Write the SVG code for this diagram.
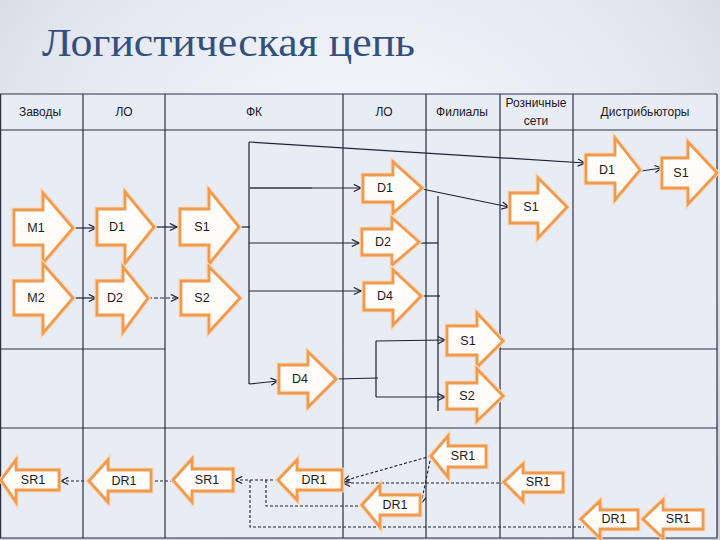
<svg xmlns="http://www.w3.org/2000/svg" width="720" height="540" viewBox="0 0 720 540">
<defs>
<radialGradient id="bg" cx="0.5" cy="0.3" r="0.75">
<stop offset="0" stop-color="#f6f8fb"/>
<stop offset="0.6" stop-color="#e3e8f0"/>
<stop offset="1" stop-color="#c9d0dc"/>
</radialGradient>
<linearGradient id="af" x1="0" y1="0" x2="0" y2="1">
<stop offset="0" stop-color="#ffffff"/>
<stop offset="1" stop-color="#fff8f1"/>
</linearGradient>
<marker id="ah" viewBox="0 0 10 10" refX="9" refY="5" markerWidth="9" markerHeight="9" markerUnits="userSpaceOnUse" orient="auto">
<path d="M1,1 L9,5 L1,9" fill="none" stroke="#1c2233" stroke-width="1.3" stroke-dasharray="none"/>
</marker>
</defs>
<style>
.grid{stroke:#2a3040;stroke-width:1.2;fill:none}
.hd{font-family:"Liberation Sans",Arial,sans-serif;font-size:12px;fill:#1a1a1a;text-anchor:middle}
.lb{font-family:"Liberation Sans",Arial,sans-serif;font-size:12.5px;fill:#1a1a1a;text-anchor:middle;dominant-baseline:central}
.glow{fill:none;stroke:#f9d9ba;stroke-width:5;stroke-linejoin:miter}
.arr{fill:url(#af);stroke:#ef9a4e;stroke-width:2.8;stroke-linejoin:miter}
.ln{fill:none;stroke:#1c2233;stroke-width:1.2}
.dl{fill:none;stroke:#1c2233;stroke-width:1.1;stroke-dasharray:3,2}
.ar{marker-end:url(#ah)}
</style>
<rect x="0" y="0" width="720" height="540" fill="url(#bg)"/>
<text x="42" y="56" font-family="Times New Roman, Liberation Serif, DejaVu Serif, serif" font-size="40" fill="#34507a" textLength="373" lengthAdjust="spacingAndGlyphs">Логистическая цепь</text>

<g id="table">
<rect x="0" y="94" width="717" height="444" fill="#e8ecf5"/>
<path class="grid" d="M0,94 H717 M0,130 H717 M0,428 H717 M0,538 H717 M0,349 H165 M500,349 H717 M0.6,94 V538 M83,94 V538 M165,94 V538 M343,94 V538 M426,94 V538 M500,94 V538 M573,94 V538 M717,94 V538"/>
<text class="hd" x="40" y="116">Заводы</text>
<text class="hd" x="124" y="116">ЛО</text>
<text class="hd" x="254" y="116">ФК</text>
<text class="hd" x="384" y="116">ЛО</text>
<text class="hd" x="462" y="116">Филиалы</text>
<text class="hd" x="536" y="107">Розничные</text>
<text class="hd" x="536" y="125">сети</text>
<text class="hd" x="645" y="116">Дистрибьюторы</text>
</g>

<g id="connectors">
<line class="ln ar" x1="73" y1="228" x2="96" y2="228"/>
<line class="ln ar" x1="73" y1="298" x2="96" y2="298"/>
<line class="ln ar" x1="154" y1="227" x2="177" y2="227"/>
<line class="ln ar" x1="148" y1="298" x2="178" y2="298" stroke="#666" stroke-dasharray="4,2"/>
<line class="ln" x1="239" y1="227" x2="250" y2="227"/>
<line class="ln" x1="249" y1="142" x2="249" y2="384"/>
<line class="ln ar" x1="249" y1="142" x2="585" y2="163"/>
<line class="ln ar" x1="249" y1="188" x2="361" y2="188"/>
<line x1="249" y1="188" x2="312" y2="188" stroke="#5a6070" stroke-width="2"/>
<line class="ln ar" x1="249" y1="243" x2="359" y2="243"/>
<line class="ln ar" x1="249" y1="291" x2="361" y2="291"/>
<line class="ln ar" x1="249" y1="384" x2="278" y2="381"/>
<line class="ln" x1="336" y1="379" x2="378" y2="378"/>
<line class="ln" x1="376" y1="341" x2="376" y2="397"/>
<line class="ln ar" x1="376" y1="341" x2="445" y2="340"/>
<line class="ln ar" x1="376" y1="397" x2="445" y2="397"/>
<line class="ln" x1="438" y1="196" x2="438" y2="411"/>
<line class="ln" x1="419" y1="243" x2="438" y2="243"/>
<line class="ln" x1="421" y1="296" x2="440" y2="296"/>
<line class="ln ar" x1="422" y1="189" x2="509" y2="207"/>
<line class="ln ar" x1="641" y1="171" x2="662" y2="168"/>

<line class="dl ar" x1="89" y1="481" x2="61" y2="481"/>
<line class="dl" x1="173" y1="481" x2="151" y2="481"/>
<line class="dl ar" x1="278" y1="480" x2="235" y2="480"/>
<polyline class="dl" points="250,480 250,527 584,527"/>
<polyline class="dl" points="266,480 266,506 362,506"/>
<line class="dl ar" x1="431" y1="456" x2="343" y2="481"/>
<line class="dl ar" x1="431" y1="456" x2="421" y2="504"/>
<line class="dl ar" x1="504" y1="483" x2="343" y2="483"/>
</g>

<g id="M1"><path class="glow" d="M14,210 H43 V193 L73,228 L43,263 V245 H14 Z"/><path class="arr" d="M14,210 H43 V193 L73,228 L43,263 V245 H14 Z"/><text class="lb" x="36" y="228">M1</text></g>
<g id="M2"><path class="glow" d="M14,281 H43 V264 L73,298 L43,333 V315 H14 Z"/><path class="arr" d="M14,281 H43 V264 L73,298 L43,333 V315 H14 Z"/><text class="lb" x="36" y="298">M2</text></g>
<g id="D1-lo"><path class="glow" d="M97,209 H125 V192 L154,227 L125,263 V245 H97 Z"/><path class="arr" d="M97,209 H125 V192 L154,227 L125,263 V245 H97 Z"/><text class="lb" x="117" y="227">D1</text></g>
<g id="D2-lo"><path class="glow" d="M97,281 H123 V267 L148,298 L123,332 V315 H97 Z"/><path class="arr" d="M97,281 H123 V267 L148,298 L123,332 V315 H97 Z"/><text class="lb" x="115" y="298">D2</text></g>
<g id="S1-fk"><path class="glow" d="M180,209 H209 V190 L239,227 L209,264 V245 H180 Z"/><path class="arr" d="M180,209 H209 V190 L239,227 L209,264 V245 H180 Z"/><text class="lb" x="202" y="227">S1</text></g>
<g id="S2-fk"><path class="glow" d="M181,281 H209 V267 L240,298 L209,332 V315 H181 Z"/><path class="arr" d="M181,281 H209 V267 L240,298 L209,332 V315 H181 Z"/><text class="lb" x="202" y="298">S2</text></g>
<g id="D4-fk"><path class="glow" d="M279,365 H308 V352 L336,379 L308,407 V393 H279 Z"/><path class="arr" d="M279,365 H308 V352 L336,379 L308,407 V393 H279 Z"/><text class="lb" x="300" y="379">D4</text></g>
<g id="D1-lo2"><path class="glow" d="M363,175 H393 V162 L422,188 L393,213 V202 H363 Z"/><path class="arr" d="M363,175 H393 V162 L422,188 L393,213 V202 H363 Z"/><text class="lb" x="385" y="188">D1</text></g>
<g id="D2-lo2"><path class="glow" d="M362,229 H392 V218 L419,242 L392,265 V255 H362 Z"/><path class="arr" d="M362,229 H392 V218 L419,242 L392,265 V255 H362 Z"/><text class="lb" x="383" y="242">D2</text></g>
<g id="D4-lo2"><path class="glow" d="M364,283 H393 V270 L421,296 L393,325 V310 H364 Z"/><path class="arr" d="M364,283 H393 V270 L421,296 L393,325 V310 H364 Z"/><text class="lb" x="385" y="296">D4</text></g>
<g id="S1-fil"><path class="glow" d="M447,326 H477 V313 L503,341 L477,367 V355 H447 Z"/><path class="arr" d="M447,326 H477 V313 L503,341 L477,367 V355 H447 Z"/><text class="lb" x="468" y="341">S1</text></g>
<g id="S2-fil"><path class="glow" d="M447,383 H477 V369 L503,396 L477,421 V409 H447 Z"/><path class="arr" d="M447,383 H477 V369 L503,396 L477,421 V409 H447 Z"/><text class="lb" x="467" y="396">S2</text></g>
<g id="S1-ret"><path class="glow" d="M510,193 H538 V178 L567,207 L538,238 V223 H510 Z"/><path class="arr" d="M510,193 H538 V178 L567,207 L538,238 V223 H510 Z"/><text class="lb" x="531" y="207">S1</text></g>
<g id="D1-dist"><path class="glow" d="M586,155 H615 V138 L640,170 L615,200 V183 H586 Z"/><path class="arr" d="M586,155 H615 V138 L640,170 L615,200 V183 H586 Z"/><text class="lb" x="607" y="170">D1</text></g>
<g id="S1-dist"><path class="glow" d="M662,158 H688 V142 L717,173 L688,204 V188 H662 Z"/><path class="arr" d="M662,158 H688 V142 L717,173 L688,204 V188 H662 Z"/><text class="lb" x="681" y="173">S1</text></g>

<g id="SR1-zav"><path class="glow" d="M1,480 L16,460 V470 H59 V490 H16 V502 Z"/><path class="arr" d="M1,480 L16,460 V470 H59 V490 H16 V502 Z"/><text class="lb" x="33" y="480">SR1</text></g>
<g id="DR1-lo"><path class="glow" d="M89,481 L108,460 V470 H151 V491 H108 V502 Z"/><path class="arr" d="M89,481 L108,460 V470 H151 V491 H108 V502 Z"/><text class="lb" x="124" y="481">DR1</text></g>
<g id="SR1-fk"><path class="glow" d="M173,480 L192,459 V469 H233 V491 H192 V502 Z"/><path class="arr" d="M173,480 L192,459 V469 H233 V491 H192 V502 Z"/><text class="lb" x="207" y="480">SR1</text></g>
<g id="DR1-fk"><path class="glow" d="M278,480 L297,460 V470 H342 V490 H297 V500 Z"/><path class="arr" d="M278,480 L297,460 V470 H342 V490 H297 V500 Z"/><text class="lb" x="314" y="480">DR1</text></g>
<g id="DR1-lo2"><path class="glow" d="M362,505 L380,485 V495 H420 V515 H380 V527 Z"/><path class="arr" d="M362,505 L380,485 V495 H420 V515 H380 V527 Z"/><text class="lb" x="395" y="505">DR1</text></g>
<g id="SR1-fil"><path class="glow" d="M431,456 L448,436 V446 H486 V467 H448 V477 Z"/><path class="arr" d="M431,456 L448,436 V446 H486 V467 H448 V477 Z"/><text class="lb" x="463" y="456">SR1</text></g>
<g id="SR1-ret"><path class="glow" d="M504,482 L523,464 V473 H563 V492 H523 V501 Z"/><path class="arr" d="M504,482 L523,464 V473 H563 V492 H523 V501 Z"/><text class="lb" x="538" y="482">SR1</text></g>
<g id="DR1-dist"><path class="glow" d="M581,519 L600,501 V510 H638 V529 H600 V538 Z"/><path class="arr" d="M581,519 L600,501 V510 H638 V529 H600 V538 Z"/><text class="lb" x="614" y="519">DR1</text></g>
<g id="SR1-dist"><path class="glow" d="M643,519 L663,500 V510 H703 V529 H663 V538 Z"/><path class="arr" d="M643,519 L663,500 V510 H703 V529 H663 V538 Z"/><text class="lb" x="678" y="519">SR1</text></g>
</svg>
